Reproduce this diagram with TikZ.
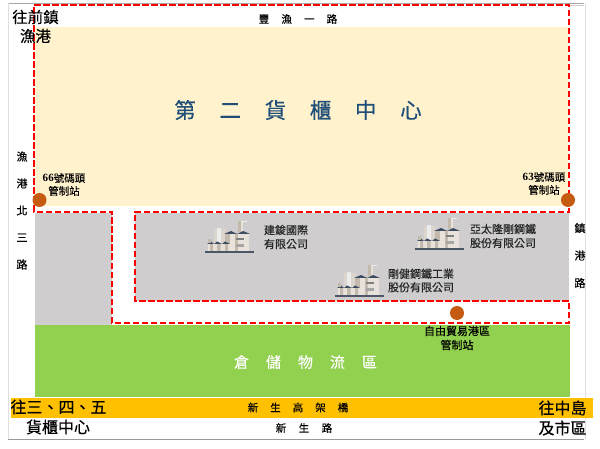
\documentclass[tikz,border=0pt]{standalone}
\usepackage{fontspec}
\setmainfont{Noto Sans CJK TC}
\newfontfamily\hv{Noto Sans CJK TC}[FakeBold=0.35]
\newfontfamily\digitfont{Liberation Serif}[Scale=1.05]
\newcommand{\fsz}[2]{\fontsize{#1}{#2}\selectfont}
\newcommand{\gapk}[1]{\kern#1pt}
\definecolor{creamc}{HTML}{FFF2CC}
\definecolor{grayc}{HTML}{CFCDCE}
\definecolor{greenc}{HTML}{92D050}
\definecolor{amberc}{HTML}{FFC000}
\definecolor{stationc}{HTML}{C55A11}
\definecolor{titlec}{HTML}{1F4E79}
\definecolor{roofc}{HTML}{3E4C63}
\definecolor{wallc}{HTML}{E8E2DA}
\definecolor{shadec}{HTML}{C4B9AD}
\tikzset{
  x=1pt,y=-1pt,
  lab/.style={inner sep=0pt,outer sep=0pt,align=center,text=black},
  labl/.style={inner sep=0pt,outer sep=0pt,align=left,anchor=west,text=black!85},
  station/.style={circle,fill=stationc,draw=none,minimum size=14pt,inner sep=0pt},
  factory/.pic={
    \fill[shadec!60!white] (9,-23) rectangle (21,-1);
    \fill[wallc] (20,-19) rectangle (44,-1);
    \fill[shadec] (20,-19) rectangle (25,-1);
    \fill[shadec] (30,-19) rectangle (33,-1);
    \fill[white!85!gray] (12,-24) rectangle (16,-8);
    \fill[wallc] (33,-31) rectangle (38,-20);
    \fill[shadec] (33,-31) rectangle (35.5,-20);
    \fill[white!85!gray] (36,-31) rectangle (42,-29.5);
    \fill[roofc] (19,-18) -- (26,-21) -- (32,-18) -- (38,-21) -- (45,-18) -- cycle;
    \fill[wallc] (3,-8) rectangle (25,-1);
    \fill[shadec] (5,-8) rectangle (8,-1) (12,-8) rectangle (15.5,-1) (20,-8) rectangle (23,-1);
    \fill[roofc] (2,-8) -- (6,-10.5) -- (9,-8) -- (12,-10.5) -- (17,-8) -- (20,-10.5) -- (25,-8) -- cycle;
    \fill[shadec] (3,-13) rectangle (6,-9);
    \fill[gray] (31,-14) rectangle (39,-11.5);
    \fill[gray!70] (31,-8) rectangle (39,-5);
    \draw[roofc!80!gray,line width=1.1pt] (0,0) -- (49,0);
  }
}
\begin{document}
\begin{tikzpicture}
\useasboundingbox (0,0) rectangle (600,449);
\fill[white] (0,0) rectangle (600,449);
% frame
\draw[gray!70,line width=0.8pt] (8,3) -- (584,3);
\draw[gray!25,line width=0.8pt] (8,3) -- (8,439);
\draw[gray!25,line width=0.8pt] (585,3) -- (585,439);
\draw[gray!80,line width=0.8pt] (8,439) -- (584,439);
\fill[grayc] (570,5) rectangle (584,6);
% areas
\fill[creamc] (35,27) rectangle (568,206);
\fill[grayc] (35,213) rectangle (112,325);
\fill[grayc] (135,213) rectangle (569,301);
\fill[greenc] (35,325) rectangle (570,397);
\fill[amberc] (11,398) rectangle (593,418);
% red boundary
\draw[red,line width=2.8pt,dash pattern=on 6.5pt off 2.5pt]
  (34,5) -- (569,5) -- (569,212) -- (135,212) -- (135,301) -- (569,301)
  -- (569,323) -- (112,323) -- (112,212) -- (34,212) -- cycle;
% stations
\node[station] (st66) at (39.5,200) {};
\node[station] (st63) at (568,200) {};
\node[station] (stftz) at (457,313) {};
% factories
\pic at (205,252) {factory};
\pic at (415,249) {factory};
\pic at (335,296) {factory};
% title
\node[lab,text=titlec,font=\hv\fsz{21.5}{25}] (title) at (298,110) {第\gapk{23.7}二\gapk{23.7}貨\gapk{23.7}櫃\gapk{23.7}中\gapk{23.7}心};
\node[lab,font=\hv\fsz{10.5}{12}] (road1) at (298,19) {豐\gapk{12.2}漁\gapk{12.2}一\gapk{12.2}路};
\node[lab,font=\hv\fsz{11}{27}] (road2) at (22,210.5) {漁\\港\\北\\三\\路};
\node[lab,font=\hv\fsz{11}{27.5}] (road3) at (580,255.5) {鎮\\港\\路};
\node[lab,font=\hv\fsz{15.5}{18}] (togo1) at (35.5,17) {往前鎮};
\node[lab,font=\hv\fsz{15.5}{18}] (togo2) at (35.5,36) {漁港};
\node[lab,font=\hv\fsz{10.5}{13}] (lab66) at (64,184.5) {{\digitfont\bfseries 66}號碼頭\\管制站};
\node[lab,font=\hv\fsz{10.5}{13}] (lab63) at (544,183.5) {{\digitfont\bfseries 63}號碼頭\\管制站};
\node[labl,font=\hv\fsz{11}{14}] (co1) at (264,237) {建鋑國際\\有限公司};
\node[labl,font=\hv\fsz{11}{14}] (co2) at (470,236) {亞太隆剛鋼鐵\\股份有限公司};
\node[labl,font=\hv\fsz{11}{13.5}] (co3) at (388,280.5) {剛健鋼鐵工業\\股份有限公司};
\node[lab,font=\hv\fsz{11}{14}] (labftz) at (457,338) {自由貿易港區\\管制站};
\node[lab,text=white,font=\hv\fsz{15}{18}] (logi) at (305.5,362) {倉\gapk{17}儲\gapk{17}物\gapk{17}流\gapk{17}區};
\node[lab,font=\hv\fsz{16}{19}] (go3) at (58.5,407) {往三、四、五};
\node[lab,font=\hv\fsz{16}{19}] (go3b) at (58,427) {貨櫃中心};
\node[lab,font=\hv\fsz{10.5}{12}] (bridge) at (298,407.5) {新\gapk{12}生\gapk{12}高\gapk{12}架\gapk{12}橋};
\node[lab,font=\hv\fsz{10.5}{12}] (road4) at (304,428) {新\gapk{12.5}生\gapk{12.5}路};
\node[lab,font=\hv\fsz{16}{19}] (go4) at (562.5,408) {往中島};
\node[lab,font=\hv\fsz{16}{19}] (go4b) at (562.5,428) {及市區};
\end{tikzpicture}
\end{document}
